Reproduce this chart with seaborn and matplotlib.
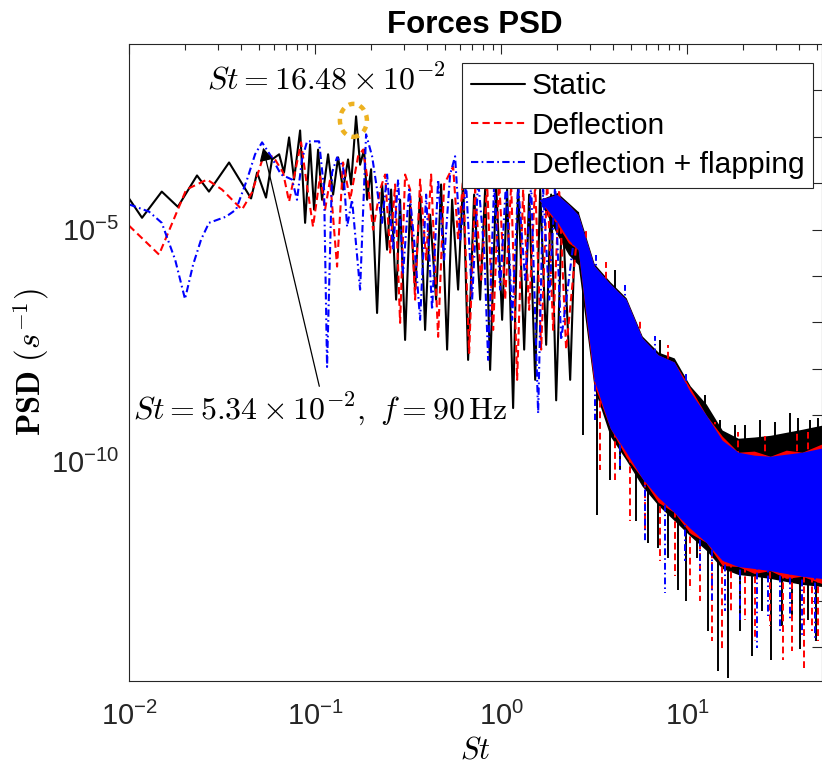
import numpy as np
import pandas as pd
import matplotlib
matplotlib.use("Agg")
import matplotlib.pyplot as plt
import matplotlib.transforms as mtransforms
from matplotlib.patches import Ellipse
from matplotlib.ticker import FixedLocator, FixedFormatter, LogLocator, NullFormatter, NullLocator
import seaborn as sns

# ---------------- data ----------------
# resolved (low / mid St) part of each spectrum
static_st = [0.0100, 0.01175, 0.0150, 0.0183, 0.0232, 0.0269, 0.0345, 0.0453, 0.0488, 0.0545,
             0.0587, 0.0641, 0.0681, 0.0725, 0.0771, 0.0831, 0.0884, 0.0940, 0.0988, 0.1038,
             0.1090, 0.1175, 0.1250, 0.1330, 0.1414, 0.1504, 0.1561, 0.1661, 0.1746, 0.1834,
             0.1904, 0.2000, 0.2154, 0.2292, 0.2438, 0.2563, 0.2726, 0.2864, 0.3047, 0.3242,
             0.3448, 0.3668, 0.3903, 0.4152, 0.4472, 0.4757, 0.5125, 0.5452, 0.5872, 0.6247,
             0.6645, 0.7158, 0.7711, 0.8203, 0.8727, 0.9400, 1.0125, 1.077, 1.160, 1.234,
             1.330, 1.414, 1.524, 1.621, 1.746, 1.857, 1.976, 2.128, 2.35, 2.50, 2.594]
static_psd = [4.7e-5, 1.8e-5, 6.6e-5, 3.1e-5, 1.47e-4, 6.6e-5, 2.8e-4, 4.7e-5, 1.7e-4, 4.9e-5,
              3.25e-4, 4.2e-4, 1.7e-4, 9.7e-4, 1.2e-4, 1.37e-3, 1.4e-5, 6.9e-4, 2.7e-5, 5.3e-4,
              4.4e-5, 4.2e-4, 5.7e-5, 3.6e-4, 7.3e-5, 3.25e-4, 9.4e-5, 2.76e-3, 2.5e-4, 5.3e-4,
              4.4e-5, 2.0e-4, 1.6e-7, 9.4e-5, 3.7e-6, 7.3e-5, 3.1e-7, 4.4e-5, 4.2e-8, 3.5e-5,
              5.1e-7, 5.7e-5, 6.9e-8, 2.1e-5, 3.1e-7, 9.4e-5, 2.6e-8, 4.4e-5, 5.1e-7, 1.2e-4,
              1.56e-8, 5.7e-5, 3.1e-7, 7.3e-5, 9.5e-9, 9.4e-5, 1.14e-7, 7.3e-5, 1.43e-9, 9.4e-5,
              2.6e-8, 5.7e-5, 5.8e-9, 7.3e-5, 3.3e-8, 5.7e-5, 2.1e-9, 3.5e-5, 5.8e-9, 1.1e-5, 2.3e-5]

deflection_st = [0.0100, 0.0145, 0.0203, 0.0263, 0.0316, 0.0405, 0.0458, 0.0525, 0.0595, 0.0673,
                 0.0725, 0.0841, 0.0895, 0.0975, 0.1064, 0.1132, 0.1204, 0.1313, 0.1414, 0.1543,
                 0.1703, 0.1812, 0.1904, 0.2050, 0.2237, 0.2379, 0.2531, 0.2692, 0.2864, 0.3047,
                 0.3242, 0.3448, 0.3668, 0.3953, 0.4204, 0.4585, 0.4937, 0.5520, 0.5872, 0.6247,
                 0.6730, 0.7248, 0.7807, 0.8410, 0.9058, 0.9754, 1.051, 1.132, 1.219, 1.313,
                 1.414, 1.524, 1.641, 1.768, 1.904, 2.050, 2.236, 2.594]
deflection_psd = [1.22e-5, 2.9e-6, 7.3e-5, 1.2e-4, 7.3e-5, 2.7e-5, 6.3e-5, 3.6e-4, 3.8e-4, 1.7e-4,
                  4.0e-5, 7.6e-4, 1.2e-4, 1.16e-5, 1.4e-4, 2.7e-5, 1.2e-4, 1.6e-6, 2.8e-4, 4.4e-5,
                  3.8e-4, 5.3e-4, 1.4e-4, 1.0e-5, 7.3e-5, 1.54e-4, 3.2e-6, 9.4e-5, 9.8e-8, 1.54e-4,
                  7.3e-5, 3.1e-7, 1.2e-4, 2.25e-6, 1.54e-4, 4.9e-8, 9.4e-5, 2.3e-4, 6.1e-6, 1.2e-4,
                  2.2e-8, 7.3e-5, 8.3e-7, 9.4e-5, 6.9e-8, 1.2e-4, 3.1e-7, 9.4e-5, 5.8e-9, 7.3e-5,
                  1.87e-7, 9.4e-5, 2.6e-8, 1.2e-4, 6.9e-8, 7.3e-5, 2.6e-8, 1.28e-5]

flapping_st = [0.0100, 0.0128, 0.0150, 0.0177, 0.0200, 0.0221, 0.0244, 0.0269, 0.0332, 0.0376,
               0.0431, 0.0476, 0.0519, 0.0580, 0.0656, 0.0752, 0.0800, 0.0851, 0.0906, 0.1051,
               0.1118, 0.1160, 0.1234, 0.1313, 0.1414, 0.1486, 0.1581, 0.1746, 0.1880, 0.2026,
               0.2154, 0.2292, 0.2438, 0.2627, 0.2794, 0.2972, 0.3202, 0.3406, 0.3668, 0.3953,
               0.4256, 0.4585, 0.4937, 0.5318, 0.5656, 0.6021, 0.6484, 0.6985, 0.7521, 0.8101,
               0.8513, 0.9170, 0.9876, 1.064, 1.146, 1.234, 1.346, 1.450, 1.581, 1.682,
               1.812, 1.951, 2.102, 2.50, 2.594]
flapping_psd = [3.5e-5, 2.45e-5, 1.4e-5, 2.25e-6, 3.2e-7, 1.75e-6, 6.1e-6, 1.4e-5, 1.9e-5, 2.7e-5,
                1.2e-4, 4.2e-4, 7.6e-4, 3.8e-4, 1.54e-4, 1.2e-4, 4.4e-5, 3.25e-4, 8.0e-4, 8.0e-4,
                7.3e-5, 1.1e-8, 1.7e-4, 3.6e-4, 2.3e-4, 1.16e-5, 4.4e-5, 5.1e-7, 1.13e-3, 3.8e-4,
                7.3e-5, 1.4e-5, 1.54e-4, 3.7e-6, 1.2e-4, 1.18e-6, 7.3e-5, 6.1e-6, 1.14e-7, 5.7e-5,
                1.87e-7, 1.2e-4, 2.25e-6, 1.54e-4, 3.8e-4, 6.1e-6, 9.4e-5, 3.1e-7, 1.2e-4, 3.7e-6,
                1.56e-8, 9.4e-5, 5.1e-7, 1.2e-4, 1.14e-7, 9.4e-5, 8.3e-7, 9.4e-5, 1.1e-9, 7.3e-5,
                3.1e-7, 9.4e-5, 4.2e-8, 1.0e-5, 2.1e-5]

# dense high-St part: envelope of the solid band of each series
band_st = [1.6, 2.0, 2.3, 2.594, 3.162, 3.855, 4.699, 5.728, 6.983, 8.513, 10.38, 12.65,
           15.42, 18.80, 22.92, 27.93, 34.05, 41.50, 52.7]
static_upper = [4.4e-5, 6.3e-5, 3.8e-5, 2.45e-5, 1.85e-6, 7.5e-7, 3.4e-7, 5.1e-8, 2.3e-8,
                1.72e-8, 4.3e-9, 1.75e-9, 4.8e-10, 3.2e-10, 3.4e-10, 3.7e-10, 4.3e-10, 5.0e-10, 6.1e-10]
static_lower = [4.4e-5, 7.8e-6, 2.9e-6, 1.75e-6, 3.86e-9, 3.55e-10, 1.08e-10, 2.96e-11,
                1.15e-11, 5.4e-12, 2.5e-12, 1.23e-12, 5.0e-13, 3.7e-13, 3.4e-13, 3.05e-13, 2.62e-13,
                2.26e-13, 2.05e-13]
deflection_upper = [4.4e-5, 5.7e-5, 3.5e-5, 2.1e-5, 1.67e-6, 6.8e-7, 3.1e-7, 4.65e-8, 2.0e-8,
                    1.41e-8, 3.9e-9, 1.01e-9, 3.55e-10, 1.6e-10, 1.69e-10, 1.31e-10, 1.77e-10, 1.6e-10,
                    2.39e-10]
deflection_lower = [4.4e-5, 1.28e-5, 5.2e-6, 3.7e-6, 4.5e-9, 5.3e-10, 1.25e-10, 4.4e-11,
                    1.33e-11, 8.1e-12, 2.86e-12, 1.82e-12, 5.8e-13, 5.5e-13, 3.9e-13, 4.5e-13, 3.05e-13,
                    3.4e-13, 2.38e-13]
flapping_upper = [4.4e-5, 5.7e-5, 3.5e-5, 2.1e-5, 1.67e-6, 6.8e-7, 3.1e-7, 4.65e-8, 2.0e-8,
                  1.41e-8, 3.2e-9, 1.01e-9, 2.9e-10, 1.6e-10, 1.38e-10, 1.31e-10, 1.45e-10, 1.6e-10,
                  1.96e-10]
flapping_lower = [4.4e-5, 1.49e-5, 6.1e-6, 3.7e-6, 5.75e-9, 5.3e-10, 1.6e-10, 4.4e-11,
                  1.71e-11, 8.1e-12, 3.66e-12, 1.82e-12, 7.5e-13, 5.5e-13, 5.0e-13, 4.5e-13, 3.9e-13,
                  3.4e-13, 3.05e-13]

# isolated spikes sticking out of the dense band (St, value inside the band, tip value)
static_spike_st = [2.760, 3.282, 3.855, 4.363, 5.318, 6.171, 6.983, 7.905, 8.945, 9.876, 11.32,
                   12.97, 14.68, 16.61, 19.27, 22.36, 25.30, 28.29, 32.43, 36.68, 40.52, 44.72, 49.38,
                   4.101, 7.158, 12.50, 15.04, 18.12, 20.50, 24.69, 29.72, 35.79, 39.54, 45.85, 50.62]
static_spike_tip = [3.7e-10, 7.0e-12, 4.0e-11, 6.5e-11, 5.4e-12, 1.8e-12, 1.36e-12, 8.2e-13, 1.68e-13,
                    1.0e-13, 8.2e-13, 2.3e-14, 3.1e-15, 2.2e-15, 2.3e-14, 6.6e-15, 6.2e-14, 5.2e-15,
                    2.9e-14, 4.8e-14, 9.3e-15, 3.8e-14, 1.4e-14,
                    1.37e-6, 4.2e-8, 2.7e-9, 7.9e-10, 6.1e-10, 6.1e-10, 7.9e-10, 7.1e-10, 1.1e-9, 8.7e-10,
                    7.9e-10, 8.7e-10]
static_spike_base = [8.3e-7, 4.2e-8, 2.1e-9, 7.9e-10, 1.77e-10, 6.5e-11, 4.0e-11, 2.4e-11, 1.15e-11,
                     7.0e-12, 5.4e-12, 3.3e-12, 2.0e-12, 1.57e-12, 1.23e-12, 1.23e-12, 9.6e-13, 9.6e-13,
                     9.6e-13, 7.4e-13, 7.4e-13, 7.4e-13, 5.8e-13,
                     3.1e-7, 7.4e-9, 6.1e-10, 2.27e-10, 1.19e-10, 1.08e-10, 8.4e-11, 8.4e-11, 8.4e-11,
                     8.4e-11, 8.4e-11, 8.4e-11]

deflection_spike_st = [3.404, 4.101, 4.937, 5.945, 7.158, 8.620, 10.38, 11.75, 13.63, 15.42, 17.24,
                       20.50, 23.21, 27.93, 32.82, 36.68, 42.56, 46.99, 50.62,
                       2.864, 3.668, 5.588, 7.905, 14.14, 18.80, 26.27, 39.03, 44.72]
deflection_spike_tip = [6.5e-11, 4.0e-11, 5.4e-12, 3.3e-12, 7.4e-13, 3.5e-13, 1.68e-13, 1.0e-13, 1.4e-14,
                        8.5e-15, 6.2e-14, 3.8e-14, 1.4e-14, 2.9e-14, 5.2e-15, 8.5e-15, 3.6e-15, 2.3e-14,
                        1.4e-14,
                        1.1e-5, 2.04e-6, 1.26e-7, 3.3e-8, 7.1e-10, 4.3e-10, 3.55e-10, 4.8e-10, 4.3e-10]
deflection_spike_base = [3.5e-9, 7.9e-10, 2.27e-10, 6.5e-11, 3.1e-11, 1.47e-11, 7.0e-12, 5.4e-12, 3.3e-12,
                         1.57e-12, 1.23e-12, 9.6e-13, 9.6e-13, 7.4e-13, 7.4e-13, 7.4e-13, 5.8e-13, 5.8e-13,
                         5.8e-13,
                         1.37e-6, 3.1e-7, 2.6e-8, 5.75e-9, 3.7e-10, 1.19e-10, 9.7e-11, 9.7e-11, 1.08e-10]

flapping_spike_st = [3.202, 4.363, 5.945, 7.616, 9.754, 11.75, 13.63, 16.01, 19.27, 23.78, 27.26,
                     31.62, 35.79, 41.50, 48.77,
                     3.242, 4.642, 6.730, 9.876]
flapping_spike_tip = [7.9e-10, 6.5e-11, 2.0e-12, 1.45e-13, 7.4e-13, 4.5e-13, 1.0e-13, 6.2e-14, 3.8e-14,
                      9.9e-15, 4.8e-14, 2.3e-14, 3.8e-14, 1.8e-14, 1.4e-14,
                      2.9e-6, 6.5e-7, 5.1e-8, 8.6e-9]
flapping_spike_base = [9.5e-9, 4.8e-10, 5.1e-11, 2.4e-11, 7.0e-12, 4.3e-12, 2.6e-12, 1.23e-12, 9.6e-13,
                       8.2e-13, 7.4e-13, 7.4e-13, 6.7e-13, 5.8e-13, 5.0e-13,
                       5.1e-7, 1.14e-7, 9.5e-9, 1.3e-9]

series_names = ["Static", "Deflection", "Deflection + flapping"]
x_ticks = [1e-2, 1e-1, 1e0, 1e1]
x_tick_labels = [r"$10^{-2}$", r"$10^{-1}$", r"$10^{0}$", r"$10^{1}$"]
y_ticks = [1e-14, 1e-13, 1e-12, 1e-11, 1e-10, 1e-9, 1e-8, 1e-7, 1e-6, 1e-5, 1e-4, 1e-3, 1e-2]
y_tick_labels = ["", "", "", "", r"$10^{-10}$", "", "", "", "", r"$10^{-5}$", "", "", ""]
peak_st = 0.1648          # St = 16.48e-2
marked_st = 0.0534        # St = 5.34e-2
marked_psd = 5.3e-4

# ---------------- style ----------------
sns.set_style("white")
plt.rcParams["font.family"] = ["Liberation Sans", "DejaVu Sans"]
plt.rcParams["mathtext.fontset"] = "custom"
plt.rcParams["mathtext.rm"] = "Liberation Sans"
plt.rcParams["mathtext.it"] = "Liberation Sans:italic"
plt.rcParams["mathtext.bf"] = "Liberation Sans:bold"
plt.rcParams["text.color"] = "black"
plt.rcParams["axes.labelcolor"] = "black"

W, H = 822, 767
fig = plt.figure(figsize=(W / 100, H / 100), dpi=100)
ax = fig.add_axes([129 / W, 86 / H, 692.5 / W, 637 / H])
ax.set_xscale("log")
ax.set_yscale("log")

colors = ["black", "#ff0000", "#0000ff"]
styles = ["-", (0, (3.5, 2.0)), (0, (3.5, 1.6, 0.8, 1.6))]
lw = 1.5
frames = [pd.DataFrame({"St": static_st, "PSD": static_psd}),
          pd.DataFrame({"St": deflection_st, "PSD": deflection_psd}),
          pd.DataFrame({"St": flapping_st, "PSD": flapping_psd})]
bands = [(static_lower, static_upper), (deflection_lower, deflection_upper),
         (flapping_lower, flapping_upper)]
spikes = [(static_spike_st, static_spike_base, static_spike_tip),
          (deflection_spike_st, deflection_spike_base, deflection_spike_tip),
          (flapping_spike_st, flapping_spike_base, flapping_spike_tip)]

for i in range(3):
    z = 2.0 + 0.2 * i
    sns.lineplot(data=frames[i], x="St", y="PSD", ax=ax, color=colors[i], lw=lw, sort=False,
                 estimator=None, label=series_names[i], linestyle=styles[i], zorder=z)
    lo, hi = bands[i]
    ax.fill_between(band_st, lo, hi, color=colors[i], lw=0, zorder=z + 0.05)
    sx, sb, stip = spikes[i]
    ax.vlines(sx, sb, stip, colors=colors[i], linestyles=[styles[i]], lw=1.4, zorder=z + 0.1)

ax.set_xlim(1e-2, 52.7)
ax.set_ylim(1.88e-15, 1e-1)

# ticks
ax.xaxis.set_major_locator(FixedLocator(x_ticks))
ax.xaxis.set_major_formatter(FixedFormatter(x_tick_labels))
ax.xaxis.set_minor_locator(LogLocator(base=10, subs=np.arange(2, 10), numticks=20))
ax.xaxis.set_minor_formatter(NullFormatter())
ax.yaxis.set_major_locator(FixedLocator(y_ticks))
ax.yaxis.set_major_formatter(FixedFormatter(y_tick_labels))
ax.yaxis.set_minor_locator(NullLocator())
ax.tick_params(which="both", direction="in", top=True, right=True, colors="#262626",
               labelsize=21, width=0.8)
ax.tick_params(which="major", length=7)
ax.tick_params(which="minor", length=4)
ax.tick_params(axis="x", pad=15)
ax.tick_params(axis="y", pad=7)
for sp in ax.spines.values():
    sp.set_color("#262626")
    sp.set_linewidth(0.8)

ax.set_title("Forces PSD", fontsize=22.5, fontweight="bold", pad=8, color="black")
ax.set_xlabel(r"$St$", fontsize=22, math_fontfamily="cm", labelpad=3.5)
ax.set_ylabel(r"$\mathbf{PSD}\ (s^{-1})$", fontsize=23.5, math_fontfamily="cm")
ax.yaxis.set_label_coords(-0.113, 0.5)

# annotations
ax.text(0.1146, 1.6e-2, r"$St = 16.48 \times 10^{-2}$", fontsize=23, math_fontfamily="cm",
        ha="center", va="center", zorder=5)
peak_val = max(p for s, p in zip(static_st, static_psd) if 0.15 < s < 0.18)
circ_trans = fig.dpi_scale_trans + mtransforms.ScaledTranslation(peak_st * 0.975, peak_val * 0.82, ax.transData)
ax.add_patch(Ellipse((0, 0), 0.27, 0.33, transform=circ_trans, fill=False, edgecolor="#EDB120",
                     lw=3.2, linestyle=(0, (1.3, 1.3)), zorder=6))
ax.annotate(r"$St = 5.34 \times 10^{-2},\ f = 90\,\mathrm{Hz}$", xy=(marked_st * 0.985, marked_psd * 1.1),
            xytext=(0.1064, 1.43e-9), fontsize=23, math_fontfamily="cm", ha="center", va="center",
            zorder=6,
            arrowprops=dict(arrowstyle="-|>", color="black", lw=0.9, mutation_scale=20,
                            shrinkA=0, shrinkB=0, relpos=(0.5, 1.0)))

# legend
handles = ax.get_lines()[:3]
leg = ax.legend(handles, series_names, loc="upper right", bbox_to_anchor=(0.9884, 0.970),
                borderaxespad=0, fontsize=21.6, frameon=True, fancybox=False, framealpha=1,
                edgecolor="#262626", handlelength=1.8, handletextpad=0.22, labelspacing=0.38,
                borderpad=0.3)
leg.get_frame().set_linewidth(0.8)
leg.set_zorder(10)

fig.savefig("out.png", dpi=100)
